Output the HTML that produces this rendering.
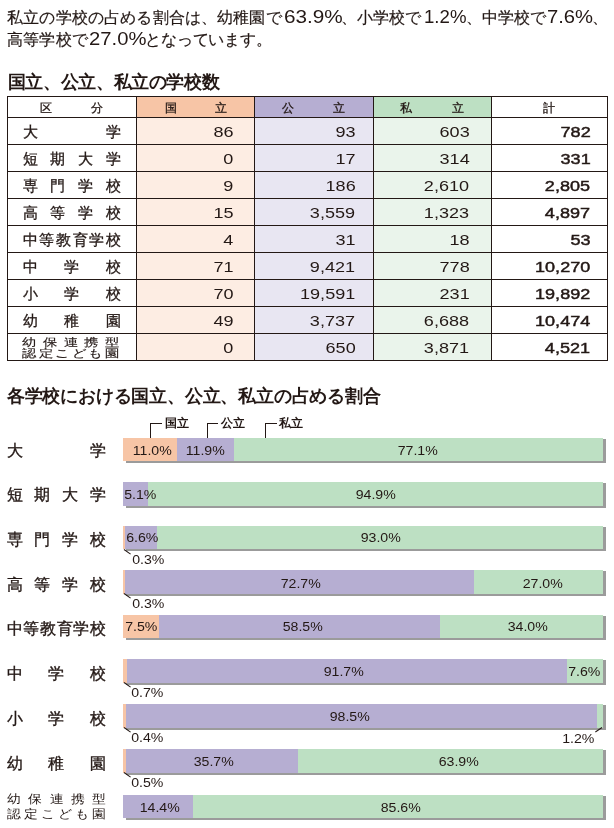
<!DOCTYPE html>
<html><head><meta charset="utf-8"><style>
*{margin:0;padding:0;box-sizing:border-box}
html,body{width:614px;height:828px;overflow:hidden;background:#fff}
body{position:relative;font-family:"Liberation Sans",sans-serif;color:#231815}
.wrap{position:absolute;left:0;top:0;width:614px;height:828px;will-change:transform}
.a{position:absolute;white-space:nowrap}
.p{font-size:16.3px;line-height:22px;left:7px;letter-spacing:0.3px}
.p i{font-style:normal;letter-spacing:0.85px}
.h{font-size:17.6px;font-weight:bold;line-height:20px;left:8px;letter-spacing:-0.4px}
.hl{position:absolute;background:#231815;height:1px}
.vl{position:absolute;background:#231815;width:1px}
.lab{position:absolute;display:flex;justify-content:space-between;font-size:14.5px;line-height:16px;-webkit-text-stroke:0.3px #231815}
.lab2{position:absolute;display:flex;justify-content:space-between;font-size:11px;line-height:12px;-webkit-text-stroke:0.15px #231815}
.lab2 span{display:inline-block;transform:scaleX(1.3)}
.clab2 span{display:inline-block;transform:scaleX(1.15)}
.num{position:absolute;font-size:14.8px;line-height:16px;text-align:right}
.num span{display:inline-block;transform:scaleX(1.22);transform-origin:100% 50%}
.b{-webkit-text-stroke:0.45px #231815}
.bar{position:absolute;box-shadow:3px 2px 0 #9b9b9b,3px 1px 0 #9b9b9b;left:123px;width:480px}
.seg{position:absolute;top:0;height:100%}
.pc{position:absolute;font-size:12.5px;line-height:14px;width:60px;text-align:center}
.pc span{display:inline-block;transform:scaleX(1.13);transform-origin:50% 50%}
.clab{position:absolute;display:flex;justify-content:space-between;font-size:16px;line-height:16px;left:6.5px;width:99.5px;-webkit-text-stroke:0.35px #231815}
.clab2{position:absolute;display:flex;justify-content:space-between;font-size:12px;line-height:14.5px;left:8px;width:97px}
.br{position:absolute;font-size:11.5px;line-height:14px;font-weight:bold}
.ld{position:absolute;height:1px;background:#231815;transform-origin:0 50%}
</style></head><body>
<div class="wrap">
<div class="a" style="left:7.2px;top:6.4px;font-size:16.3px;line-height:22px;-webkit-text-stroke:0.2px #231815;;letter-spacing:0.150px">私立の学校の占める割合は、幼稚園で</div>
<div class="a" style="left:283.6px;top:6.2px;font-size:16.3px;line-height:22px;-webkit-text-stroke:0.2px #231815;font-size:17.7px;-webkit-text-stroke:0;transform:scaleX(1.1714);transform-origin:0 0">63.9%</div>
<div class="a" style="left:340.5px;top:6.4px;font-size:16.3px;line-height:22px;-webkit-text-stroke:0.2px #231815;;letter-spacing:0.175px">、小学校で</div>
<div class="a" style="left:424.1px;top:6.2px;font-size:16.3px;line-height:22px;-webkit-text-stroke:0.2px #231815;font-size:17.7px;-webkit-text-stroke:0;transform:scaleX(1.0538);transform-origin:0 0">1.2%</div>
<div class="a" style="left:465.5px;top:6.4px;font-size:16.3px;line-height:22px;-webkit-text-stroke:0.2px #231815;;letter-spacing:0.125px">、中学校で</div>
<div class="a" style="left:546.9px;top:6.2px;font-size:16.3px;line-height:22px;-webkit-text-stroke:0.2px #231815;font-size:17.7px;-webkit-text-stroke:0;transform:scaleX(1.1436);transform-origin:0 0">7.6%</div>
<div class="a" style="left:591.8px;top:6.4px;font-size:16.3px;line-height:22px;-webkit-text-stroke:0.2px #231815;">、</div>
<div class="a" style="left:6.8px;top:28.3px;font-size:16.3px;line-height:22px;-webkit-text-stroke:0.2px #231815;;letter-spacing:0.275px">高等学校で</div>
<div class="a" style="left:89.4px;top:28.1px;font-size:16.3px;line-height:22px;-webkit-text-stroke:0.2px #231815;font-size:17.7px;-webkit-text-stroke:0;transform:scaleX(1.1449);transform-origin:0 0">27.0%</div>
<div class="a" style="left:145.2px;top:28.3px;font-size:16.3px;line-height:22px;-webkit-text-stroke:0.2px #231815;;letter-spacing:-0.186px">となっています。</div>
<div class="a" style="left:7.8px;top:72.3px;font-size:17.6px;line-height:20px;font-weight:bold;;letter-spacing:-0.373px">国立、公立、私立の学校数</div>
<div class="a" style="left:8px;top:97px;width:128px;height:20px;background:#fff"></div>
<div class="a" style="left:8px;top:118px;width:128px;height:242px;background:#fff"></div>
<div class="a" style="left:137px;top:97px;width:117px;height:20px;background:#f7c5a6"></div>
<div class="a" style="left:137px;top:118px;width:117px;height:242px;background:#fdede3"></div>
<div class="a" style="left:255px;top:97px;width:118px;height:20px;background:#b6aed2"></div>
<div class="a" style="left:255px;top:118px;width:118px;height:242px;background:#e8e6f2"></div>
<div class="a" style="left:374px;top:97px;width:117px;height:20px;background:#bde0c3"></div>
<div class="a" style="left:374px;top:118px;width:117px;height:242px;background:#eaf4eb"></div>
<div class="a" style="left:492px;top:97px;width:115px;height:20px;background:#fff"></div>
<div class="a" style="left:492px;top:118px;width:115px;height:242px;background:#fff"></div>
<div class="hl" style="left:7px;top:96px;width:601px"></div>
<div class="hl" style="left:7px;top:117px;width:601px"></div>
<div class="hl" style="left:7px;top:144px;width:601px"></div>
<div class="hl" style="left:7px;top:171px;width:601px"></div>
<div class="hl" style="left:7px;top:198px;width:601px"></div>
<div class="hl" style="left:7px;top:225px;width:601px"></div>
<div class="hl" style="left:7px;top:252px;width:601px"></div>
<div class="hl" style="left:7px;top:279px;width:601px"></div>
<div class="hl" style="left:7px;top:306px;width:601px"></div>
<div class="hl" style="left:7px;top:333px;width:601px"></div>
<div class="hl" style="left:7px;top:360px;width:601px"></div>
<div class="vl" style="left:7px;top:96px;height:265px"></div>
<div class="vl" style="left:136px;top:96px;height:265px"></div>
<div class="vl" style="left:254px;top:96px;height:265px"></div>
<div class="vl" style="left:373px;top:96px;height:265px"></div>
<div class="vl" style="left:491px;top:96px;height:265px"></div>
<div class="vl" style="left:607px;top:96px;height:265px"></div>
<div class="lab" style="font-size:12px;left:40px;width:63px;top:101px;line-height:14px"><span>区</span><span>分</span></div>
<div class="lab" style="font-size:12px;left:165px;width:62px;top:101px;line-height:14px"><span>国</span><span>立</span></div>
<div class="lab" style="font-size:12px;left:282px;width:63px;top:101px;line-height:14px"><span>公</span><span>立</span></div>
<div class="lab" style="font-size:12px;left:400px;width:64px;top:101px;line-height:14px"><span>私</span><span>立</span></div>
<div class="a" style="font-size:12px;line-height:14px;left:542.5px;top:101px;-webkit-text-stroke:0.3px #231815">計</div>
<div class="lab" style="left:22.5px;width:98.5px;top:124px"><span>大</span><span>学</span></div>
<div class="num" style="right:380.5px;top:123.6px"><span>86</span></div>
<div class="num" style="right:258.5px;top:123.6px"><span>93</span></div>
<div class="num" style="right:144.5px;top:123.6px"><span>603</span></div>
<div class="num b" style="right:23.5px;top:123.6px"><span>782</span></div>
<div class="lab" style="left:22.5px;width:98.5px;top:151px"><span>短</span><span>期</span><span>大</span><span>学</span></div>
<div class="num" style="right:380.5px;top:150.6px"><span>0</span></div>
<div class="num" style="right:258.5px;top:150.6px"><span>17</span></div>
<div class="num" style="right:144.5px;top:150.6px"><span>314</span></div>
<div class="num b" style="right:23.5px;top:150.6px"><span>331</span></div>
<div class="lab" style="left:22.5px;width:98.5px;top:178px"><span>専</span><span>門</span><span>学</span><span>校</span></div>
<div class="num" style="right:380.5px;top:177.6px"><span>9</span></div>
<div class="num" style="right:258.5px;top:177.6px"><span>186</span></div>
<div class="num" style="right:144.5px;top:177.6px"><span>2,610</span></div>
<div class="num b" style="right:23.5px;top:177.6px"><span>2,805</span></div>
<div class="lab" style="left:22.5px;width:98.5px;top:205px"><span>高</span><span>等</span><span>学</span><span>校</span></div>
<div class="num" style="right:380.5px;top:204.6px"><span>15</span></div>
<div class="num" style="right:258.5px;top:204.6px"><span>3,559</span></div>
<div class="num" style="right:144.5px;top:204.6px"><span>1,323</span></div>
<div class="num b" style="right:23.5px;top:204.6px"><span>4,897</span></div>
<div class="lab" style="left:22.5px;width:98.5px;top:232px"><span>中</span><span>等</span><span>教</span><span>育</span><span>学</span><span>校</span></div>
<div class="num" style="right:380.5px;top:231.6px"><span>4</span></div>
<div class="num" style="right:258.5px;top:231.6px"><span>31</span></div>
<div class="num" style="right:144.5px;top:231.6px"><span>18</span></div>
<div class="num b" style="right:23.5px;top:231.6px"><span>53</span></div>
<div class="lab" style="left:22.5px;width:98.5px;top:259px"><span>中</span><span>学</span><span>校</span></div>
<div class="num" style="right:380.5px;top:258.6px"><span>71</span></div>
<div class="num" style="right:258.5px;top:258.6px"><span>9,421</span></div>
<div class="num" style="right:144.5px;top:258.6px"><span>778</span></div>
<div class="num b" style="right:23.5px;top:258.6px"><span>10,270</span></div>
<div class="lab" style="left:22.5px;width:98.5px;top:286px"><span>小</span><span>学</span><span>校</span></div>
<div class="num" style="right:380.5px;top:285.6px"><span>70</span></div>
<div class="num" style="right:258.5px;top:285.6px"><span>19,591</span></div>
<div class="num" style="right:144.5px;top:285.6px"><span>231</span></div>
<div class="num b" style="right:23.5px;top:285.6px"><span>19,892</span></div>
<div class="lab" style="left:22.5px;width:98.5px;top:313px"><span>幼</span><span>稚</span><span>園</span></div>
<div class="num" style="right:380.5px;top:312.6px"><span>49</span></div>
<div class="num" style="right:258.5px;top:312.6px"><span>3,737</span></div>
<div class="num" style="right:144.5px;top:312.6px"><span>6,688</span></div>
<div class="num b" style="right:23.5px;top:312.6px"><span>10,474</span></div>
<div class="lab2" style="left:24px;width:94px;top:335.5px"><span>幼</span><span>保</span><span>連</span><span>携</span><span>型</span></div>
<div class="lab2" style="left:24px;width:94px;top:346.5px"><span>認</span><span>定</span><span>こ</span><span>ど</span><span>も</span><span>園</span></div>
<div class="num" style="right:380.5px;top:339.6px"><span>0</span></div>
<div class="num" style="right:258.5px;top:339.6px"><span>650</span></div>
<div class="num" style="right:144.5px;top:339.6px"><span>3,871</span></div>
<div class="num b" style="right:23.5px;top:339.6px"><span>4,521</span></div>
<div class="a" style="left:6.8px;top:386.3px;font-size:17.8px;line-height:20px;font-weight:bold;;letter-spacing:-0.200px">各学校における国立、公立、私立の占める割合</div>
<div class="bar" style="top:438px;height:23px"><div class="seg" style="left:0px;width:54px;background:#f7c5a6"></div><div class="seg" style="left:54px;width:57px;background:#b6aed2"></div><div class="seg" style="left:111px;width:369px;background:#bde0c3"></div></div>
<div class="pc" style="left:122.0px;top:444.1px"><span>11.0%</span></div>
<div class="pc" style="left:174.9px;top:444.1px"><span>11.9%</span></div>
<div class="pc" style="left:387.5px;top:444.1px"><span>77.1%</span></div>
<div class="clab" style="top:442.7px"><span>大</span><span>学</span></div>
<div class="bar" style="top:482px;height:24px"><div class="seg" style="left:0px;width:25px;background:#b6aed2"></div><div class="seg" style="left:25px;width:455px;background:#bde0c3"></div></div>
<div class="pc" style="left:110.6px;top:488.3px"><span>5.1%</span></div>
<div class="pc" style="left:345.8px;top:488.3px"><span>94.9%</span></div>
<div class="clab" style="top:487.2px"><span>短</span><span>期</span><span>大</span><span>学</span></div>
<div class="bar" style="top:526px;height:23px"><div class="seg" style="left:0px;width:2px;background:#f7c5a6"></div><div class="seg" style="left:2px;width:32px;background:#b6aed2"></div><div class="seg" style="left:34px;width:446px;background:#bde0c3"></div></div>
<div class="pc" style="left:112.7px;top:531.3px"><span>6.6%</span></div>
<div class="pc" style="left:351.2px;top:531.3px"><span>93.0%</span></div>
<div class="clab" style="top:532.2px"><span>専</span><span>門</span><span>学</span><span>校</span></div>
<div class="bar" style="top:570px;height:24px"><div class="seg" style="left:0px;width:2px;background:#f7c5a6"></div><div class="seg" style="left:2px;width:349px;background:#b6aed2"></div><div class="seg" style="left:351px;width:129px;background:#bde0c3"></div></div>
<div class="pc" style="left:270.4px;top:576.9px"><span>72.7%</span></div>
<div class="pc" style="left:513.1px;top:576.9px"><span>27.0%</span></div>
<div class="clab" style="top:576.8px"><span>高</span><span>等</span><span>学</span><span>校</span></div>
<div class="bar" style="top:615px;height:23px"><div class="seg" style="left:0px;width:36px;background:#f7c5a6"></div><div class="seg" style="left:36px;width:281px;background:#b6aed2"></div><div class="seg" style="left:317px;width:163px;background:#bde0c3"></div></div>
<div class="pc" style="left:111.4px;top:620.3px"><span>7.5%</span></div>
<div class="pc" style="left:272.7px;top:620.3px"><span>58.5%</span></div>
<div class="pc" style="left:497.6px;top:620.3px"><span>34.0%</span></div>
<div class="clab" style="top:621.2px"><span>中</span><span>等</span><span>教</span><span>育</span><span>学</span><span>校</span></div>
<div class="bar" style="top:659px;height:24px"><div class="seg" style="left:0px;width:4px;background:#f7c5a6"></div><div class="seg" style="left:4px;width:440px;background:#b6aed2"></div><div class="seg" style="left:444px;width:36px;background:#bde0c3"></div></div>
<div class="pc" style="left:313.6px;top:665.1px"><span>91.7%</span></div>
<div class="pc" style="left:554.4px;top:665.1px"><span>7.6%</span></div>
<div class="clab" style="top:666.2px"><span>中</span><span>学</span><span>校</span></div>
<div class="bar" style="top:704px;height:24px"><div class="seg" style="left:0px;width:3px;background:#f7c5a6"></div><div class="seg" style="left:3px;width:471px;background:#b6aed2"></div><div class="seg" style="left:474px;width:6px;background:#bde0c3"></div></div>
<div class="pc" style="left:319.4px;top:709.9px"><span>98.5%</span></div>
<div class="clab" style="top:711.2px"><span>小</span><span>学</span><span>校</span></div>
<div class="bar" style="top:749px;height:24px"><div class="seg" style="left:0px;width:3px;background:#f7c5a6"></div><div class="seg" style="left:3px;width:172px;background:#b6aed2"></div><div class="seg" style="left:175px;width:305px;background:#bde0c3"></div></div>
<div class="pc" style="left:184.0px;top:754.9px"><span>35.7%</span></div>
<div class="pc" style="left:428.6px;top:754.9px"><span>63.9%</span></div>
<div class="clab" style="top:756.2px"><span>幼</span><span>稚</span><span>園</span></div>
<div class="bar" style="top:795px;height:23px"><div class="seg" style="left:0px;width:70px;background:#b6aed2"></div><div class="seg" style="left:70px;width:410px;background:#bde0c3"></div></div>
<div class="pc" style="left:129.8px;top:800.9px"><span>14.4%</span></div>
<div class="pc" style="left:371.1px;top:800.9px"><span>85.6%</span></div>
<div class="clab2" style="top:792px"><span>幼</span><span>保</span><span>連</span><span>携</span><span>型</span></div>
<div class="clab2" style="top:806.5px"><span>認</span><span>定</span><span>こ</span><span>ど</span><span>も</span><span>園</span></div>
<div class="ld" style="left:124.1px;top:548.5px;width:7.9px;transform:rotate(34.7deg)"></div>
<div class="pc" style="left:118.2px;top:553.1px"><span>0.3%</span></div>
<div class="ld" style="left:124.1px;top:592.5px;width:7.9px;transform:rotate(34.7deg)"></div>
<div class="pc" style="left:118.2px;top:597.1px"><span>0.3%</span></div>
<div class="ld" style="left:124.1px;top:681.5px;width:7.9px;transform:rotate(34.7deg)"></div>
<div class="pc" style="left:117.2px;top:686.1px"><span>0.7%</span></div>
<div class="ld" style="left:124.1px;top:726.5px;width:7.9px;transform:rotate(34.7deg)"></div>
<div class="pc" style="left:117.2px;top:731.1px"><span>0.4%</span></div>
<div class="ld" style="left:124.1px;top:771.5px;width:7.9px;transform:rotate(34.7deg)"></div>
<div class="pc" style="left:117.2px;top:776.1px"><span>0.5%</span></div>
<div class="ld" style="left:601.6px;top:726.8px;width:7.7px;transform:rotate(146.1deg)"></div>
<div class="pc" style="left:548.2px;top:731.7px"><span>1.2%</span></div>
<div class="vl" style="left:150px;top:423px;height:15px"></div>
<div class="hl" style="left:150px;top:423px;width:12px"></div>
<div class="br" style="left:164.5px;top:415.5px">国立</div>
<div class="vl" style="left:207px;top:423px;height:15px"></div>
<div class="hl" style="left:207px;top:423px;width:11px"></div>
<div class="br" style="left:220.8px;top:415.5px">公立</div>
<div class="vl" style="left:265px;top:423px;height:15px"></div>
<div class="hl" style="left:265px;top:423px;width:12px"></div>
<div class="br" style="left:279.2px;top:415.5px">私立</div>
</div>
</body></html>
